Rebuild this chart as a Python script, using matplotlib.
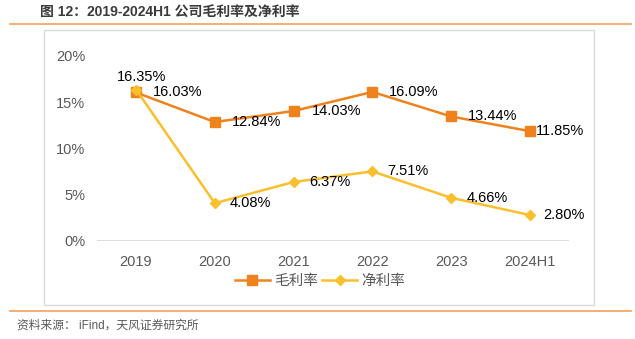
import matplotlib
matplotlib.use("Agg")
import matplotlib.pyplot as plt
from matplotlib.patches import Rectangle
from matplotlib.lines import Line2D
from matplotlib.ticker import FuncFormatter

plt.rcParams['font.family'] = ['Liberation Sans', 'Noto Sans CJK SC', 'DejaVu Sans']

categories = ["2019", "2020", "2021", "2022", "2023", "2024H1"]
gross_margin = [16.03, 12.84, 14.03, 16.09, 13.44, 11.85]
net_margin = [16.35, 4.08, 6.37, 7.51, 4.66, 2.80]
series_names = ["毛利率", "净利率"]
yticks = [0, 5, 10, 15, 20]

title = "图 12：2019-2024H1 公司毛利率及净利率"
source = "资料来源： iFind，天风证券研究所"

c_gross = "#F0821E"
c_net = "#FABF2C"
grey = "#595959"

W, H = 635, 339
fig = plt.figure(figsize=(W / 100, H / 100), dpi=100)

def fx(px):
    return px / W

def fy(py):
    return 1 - py / H

# frame and rules
fig.add_artist(Rectangle((fx(44), fy(305)), fx(594) - fx(44), fy(30) - fy(305),
                         transform=fig.transFigure, fill=False, edgecolor="#d9d9d9", lw=1.0))
fig.add_artist(Line2D([fx(10), fx(631)], [fy(24), fy(24)], transform=fig.transFigure,
                      color="#F5A05A", lw=1.2))
fig.add_artist(Line2D([fx(10), fx(631)], [fy(311), fy(311)], transform=fig.transFigure,
                      color="#F5A05A", lw=1.2))

fig.text(fx(40), fy(13), title, fontsize=10, fontweight="bold", color="#3a3a3a",
         va="center", ha="left", family=['Liberation Sans', 'Noto Sans CJK SC'])
fig.text(fx(17), fy(326), source, fontsize=8.5, color=grey, va="center", ha="left",
         family=['Liberation Sans', 'Noto Sans CJK SC'])

ax = fig.add_axes([fx(96.6), fy(241), fx(569.4) - fx(96.6), fy(55.7) - fy(241)])
x = list(range(len(categories)))

ax.plot(x, gross_margin, color=c_gross, lw=1.8, marker="s", markersize=6.5, label=series_names[0], zorder=3)
ax.plot(x, net_margin, color=c_net, lw=1.8, marker="D", markersize=5.5, label=series_names[1], zorder=4)

ax.set_xlim(-0.5, len(categories) - 0.5)
ax.set_ylim(0, 20)
ax.set_yticks(yticks)
ax.yaxis.set_major_formatter(FuncFormatter(lambda v, p: f"{v:.0f}%"))
ax.set_xticks(x)
ax.set_xticklabels(categories)
for s in ax.spines.values():
    s.set_visible(False)
ax.axhline(0, color="#d9d9d9", lw=2, zorder=1)
ax.tick_params(axis="both", length=0, labelsize=10.5, labelcolor=grey)
ax.tick_params(axis="y", pad=8)
ax.tick_params(axis="x", pad=10)

gross_off = [(12, 0), (12, 0), (13, 0), (12, 0), (12, 0), (4, 0)]
net_off = [(4, 9), (11, 0), (11.5, 0), (11, 0), (11, 0), (9.5, 0)]
for i, v in enumerate(gross_margin):
    ax.annotate(f"{v:.2f}%", (x[i], v), xytext=gross_off[i], textcoords="offset points",
                ha="left", va="center", fontsize=10.5, color="black", zorder=5)
for i, v in enumerate(net_margin):
    ha = "center" if i == 0 else "left"
    ax.annotate(f"{v:.2f}%", (x[i], v), xytext=net_off[i], textcoords="offset points",
                ha=ha, va="center", fontsize=10.5, color="black", zorder=5)

leg = fig.legend(loc="center", bbox_to_anchor=(fx(320), fy(281)), ncol=2, frameon=False,
                 handlelength=2.4, handletextpad=0.3, columnspacing=0.3,
                 prop={'family': ['Noto Sans CJK SC'], 'size': 10.5})
for t in leg.get_texts():
    t.set_color(grey)

fig.savefig("out.png", dpi=100)
